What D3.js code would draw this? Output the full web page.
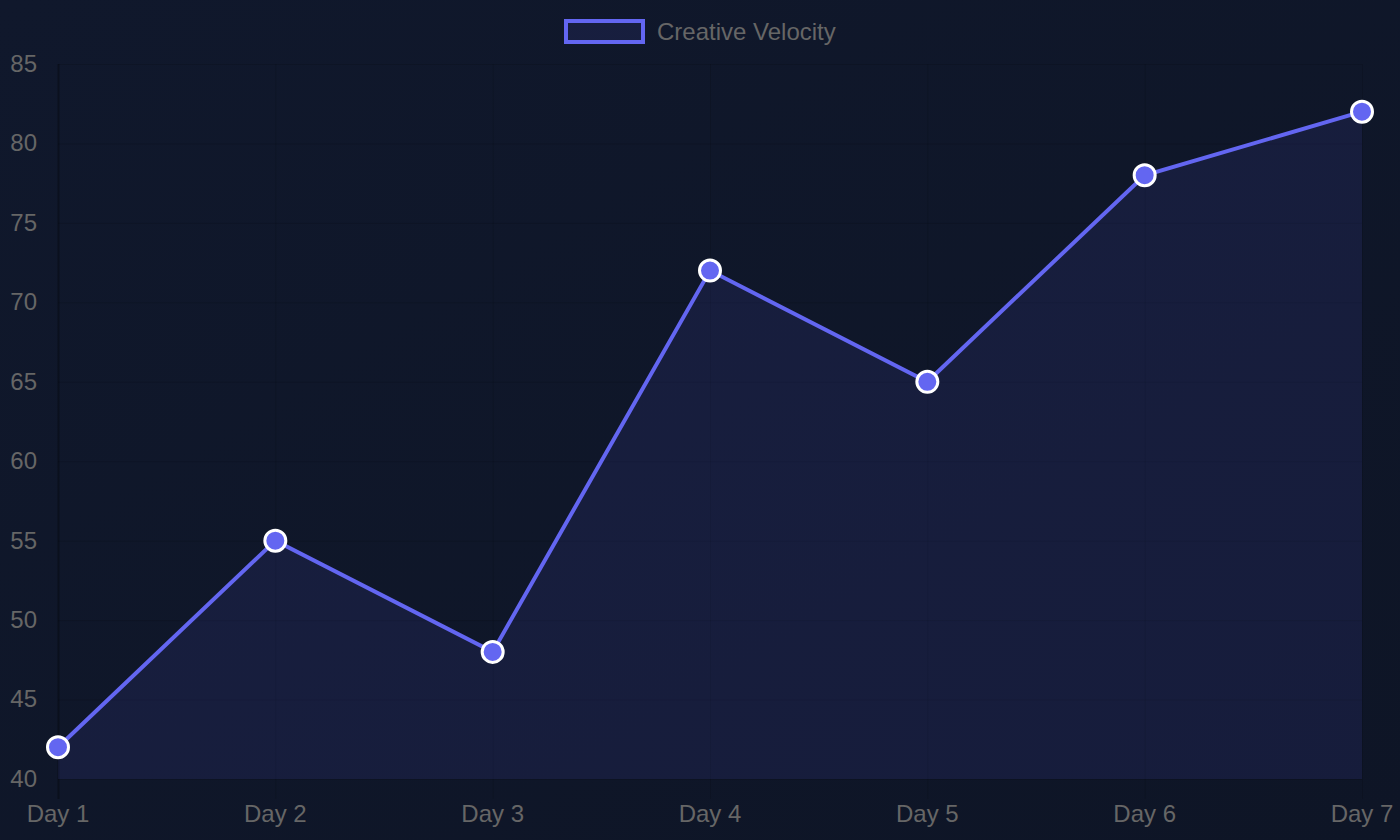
<!DOCTYPE html>
<html>
  <head>
    <meta charset="utf-8" />
    <title>Creative Velocity</title>
    <script src="https://cdn.jsdelivr.net/npm/d3@7"></script>
    <style type="text/css">
      html, body { margin: 0; padding: 0; }
      body { width: 1400px; height: 840px; overflow: hidden; background: #0f172a; }
      svg { display: block; font-family: "Liberation Sans", Arial, sans-serif; }
    </style>
  </head>

  <body>
    <svg id="chart" width="1400" height="840"></svg>
    <script type="text/javascript">
      // data
      var days = ['Day 1', 'Day 2', 'Day 3', 'Day 4', 'Day 5', 'Day 6', 'Day 7'];
      var velocity = [42, 55, 48, 72, 65, 78, 82];
      var yTicks = [40, 45, 50, 55, 60, 65, 70, 75, 80, 85];
      var seriesName = 'Creative Velocity';

      var W = 1400, H = 840;
      var m = { left: 58, right: 38, top: 64, bottom: 61 };
      var lineColor = '#6366f1';
      var fillColor = 'rgba(99,102,241,0.1)';
      var gridColor = 'rgba(0,0,0,0.12)';
      var textColor = '#666';

      var svg = d3.select('#chart');

      // background, faint diagonal gradient
      var defs = svg.append('defs');
      var grad = defs.append('linearGradient').attr('id', 'bg')
        .attr('x1', '0').attr('y1', '0').attr('x2', '1').attr('y2', '1');
      grad.append('stop').attr('offset', '0').attr('stop-color', '#10182c');
      grad.append('stop').attr('offset', '1').attr('stop-color', '#0e1526');
      svg.append('rect').attr('width', W).attr('height', H).attr('fill', 'url(#bg)');

      var x = d3.scalePoint().domain(days).range([m.left, W - m.right]);
      var y = d3.scaleLinear().domain([40, 85]).range([H - m.bottom, m.top]);

      var data = days.map((d, i) => ({ day: d, v: velocity[i] }));

      // horizontal grid
      svg.append('g')
        .selectAll('line')
        .data(yTicks)
        .enter()
        .append('line')
        .attr('x1', m.left).attr('x2', W - m.right)
        .attr('y1', (d) => y(d) + 0.5).attr('y2', (d) => y(d) + 0.5)
        .attr('stroke', gridColor).attr('stroke-width', 1);

      // vertical grid, with tick marks below the plot
      svg.append('g')
        .selectAll('line')
        .data(days)
        .enter()
        .append('line')
        .attr('x1', (d) => x(d) + 0.5).attr('x2', (d) => x(d) + 0.5)
        .attr('y1', m.top).attr('y2', H - m.bottom + 20)
        .attr('stroke', (d, i) => (i === 0 ? 'rgba(0,0,0,0.3)' : gridColor))
        .attr('stroke-width', (d, i) => (i === 0 ? 2 : 1));

      // area fill
      var area = d3.area()
        .x((d) => x(d.day))
        .y0(y(40))
        .y1((d) => y(d.v));
      svg.append('path')
        .attr('d', area(data))
        .attr('fill', fillColor);

      // line
      var lineMaker = d3.line()
        .x((d) => x(d.day))
        .y((d) => y(d.v));
      svg.append('path')
        .attr('d', lineMaker(data))
        .attr('fill', 'none')
        .attr('stroke', lineColor)
        .attr('stroke-width', 4)
        .attr('stroke-linejoin', 'miter');

      // points
      svg.append('g')
        .selectAll('circle')
        .data(data)
        .enter()
        .append('circle')
        .attr('cx', (d) => x(d.day))
        .attr('cy', (d) => y(d.v))
        .attr('r', 10.5)
        .attr('fill', lineColor)
        .attr('stroke', '#fff')
        .attr('stroke-width', 3);

      // y tick labels
      svg.append('g')
        .selectAll('text')
        .data(yTicks)
        .enter()
        .append('text')
        .attr('x', 37)
        .attr('y', (d) => y(d))
        .attr('dy', '0.33em')
        .attr('text-anchor', 'end')
        .attr('font-size', 24)
        .attr('fill', textColor)
        .text((d) => d);

      // x tick labels
      svg.append('g')
        .selectAll('text')
        .data(days)
        .enter()
        .append('text')
        .attr('x', (d) => x(d))
        .attr('y', 822)
        .attr('text-anchor', 'middle')
        .attr('font-size', 24)
        .attr('fill', textColor)
        .text((d) => d);

      // legend
      var lg = svg.append('g');
      lg.append('rect')
        .attr('x', 566).attr('y', 21)
        .attr('width', 77).attr('height', 21)
        .attr('fill', fillColor)
        .attr('stroke', lineColor)
        .attr('stroke-width', 4);
      lg.append('text')
        .attr('x', 657).attr('y', 32)
        .attr('dy', '0.33em')
        .attr('font-size', 24)
        .attr('fill', textColor)
        .text(seriesName);
    </script>
  </body>
</html>
